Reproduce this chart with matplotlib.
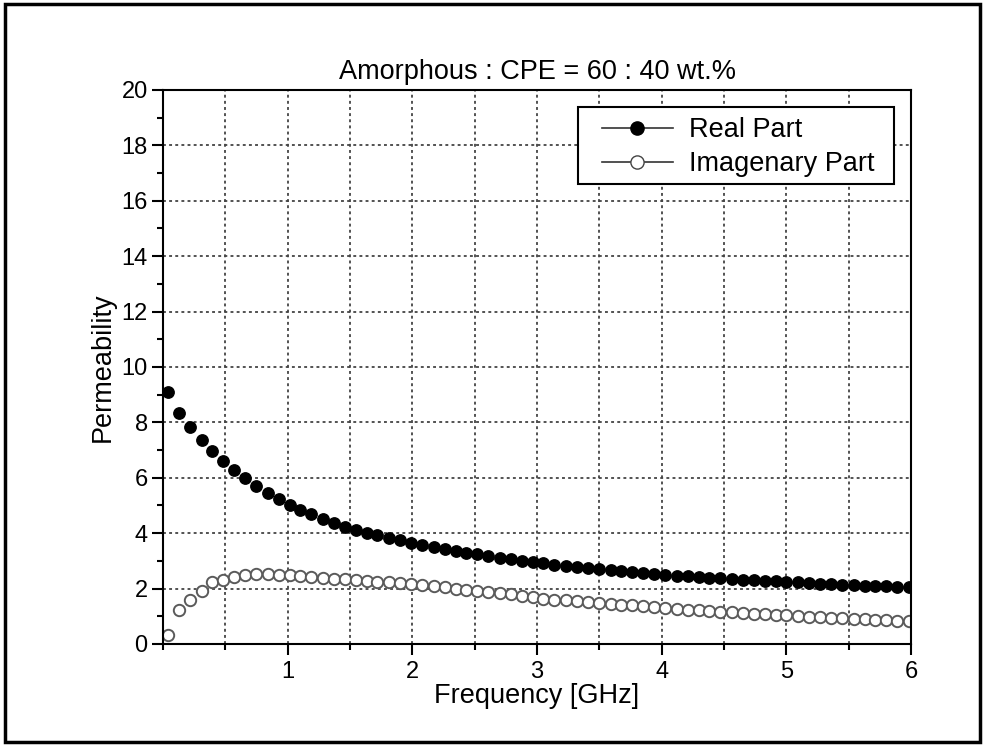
import matplotlib.pyplot as plt
from matplotlib.lines import Line2D
from matplotlib.patches import Rectangle
from matplotlib.ticker import MultipleLocator

plt.rcParams['font.family'] = ['Liberation Sans', 'DejaVu Sans']

# frequency sweep points [GHz]
freq = [0.04, 0.13, 0.22, 0.31, 0.39, 0.48, 0.57, 0.66, 0.75, 0.84,
        0.93, 1.02, 1.10, 1.19, 1.28, 1.37, 1.46, 1.55, 1.64, 1.72,
        1.81, 1.90, 1.99, 2.08, 2.17, 2.26, 2.35, 2.43, 2.52, 2.61,
        2.70, 2.79, 2.88, 2.97, 3.05, 3.14, 3.23, 3.32, 3.41, 3.50,
        3.59, 3.67, 3.76, 3.85, 3.94, 4.03, 4.12, 4.21, 4.30, 4.38,
        4.47, 4.56, 4.65, 4.74, 4.83, 4.92, 5.00, 5.09, 5.18, 5.27,
        5.36, 5.45, 5.54, 5.63, 5.71, 5.80, 5.89, 5.98]

# real part of permeability
real_part = [9.10, 8.35, 7.85, 7.38, 6.98, 6.60, 6.28, 6.00, 5.70, 5.44,
             5.22, 5.02, 4.85, 4.68, 4.53, 4.38, 4.24, 4.13, 4.02, 3.92,
             3.83, 3.74, 3.66, 3.58, 3.51, 3.44, 3.37, 3.30, 3.24, 3.18,
             3.12, 3.06, 3.01, 2.96, 2.91, 2.86, 2.82, 2.78, 2.74, 2.70,
             2.66, 2.62, 2.59, 2.56, 2.53, 2.50, 2.47, 2.44, 2.42, 2.39,
             2.37, 2.34, 2.32, 2.30, 2.28, 2.26, 2.24, 2.22, 2.20, 2.18,
             2.16, 2.14, 2.12, 2.11, 2.09, 2.08, 2.06, 2.05]

# imaginary part of permeability
imag_part = [0.32, 1.22, 1.60, 1.93, 2.22, 2.32, 2.42, 2.48, 2.52, 2.52,
             2.50, 2.48, 2.44, 2.41, 2.38, 2.36, 2.33, 2.30, 2.28, 2.25,
             2.22, 2.19, 2.16, 2.12, 2.08, 2.04, 2.00, 1.96, 1.92, 1.88,
             1.84, 1.79, 1.74, 1.68, 1.64, 1.60, 1.57, 1.54, 1.51, 1.48,
             1.45, 1.42, 1.39, 1.36, 1.33, 1.30, 1.27, 1.24, 1.22, 1.19,
             1.17, 1.14, 1.12, 1.10, 1.07, 1.05, 1.03, 1.01, 0.99, 0.97,
             0.95, 0.93, 0.91, 0.89, 0.88, 0.86, 0.84, 0.83]

x_ticks = [1, 2, 3, 4, 5, 6]
y_ticks = [0, 2, 4, 6, 8, 10, 12, 14, 16, 18, 20]

fig = plt.figure(figsize=(9.83, 7.45), dpi=100)
ax = fig.add_axes([0.1658, 0.1356, 0.7610, 0.7436])

ax.plot(freq, real_part, 'o', ms=8.2, color='black', mec='black')
ax.plot(freq, imag_part, 'o', ms=8.2, mfc='white', mec='#5a5a5a', mew=1.4)

ax.set_xlim(0, 6)
ax.set_ylim(0, 20)
ax.set_xticks(x_ticks)
ax.set_yticks(y_ticks)
ax.xaxis.set_minor_locator(MultipleLocator(0.5))
ax.yaxis.set_minor_locator(MultipleLocator(1))
ax.tick_params(which='major', direction='out', length=8, width=1.5, labelsize=17)
ax.tick_params(axis='x', which='major', pad=4)
ax.tick_params(axis='y', which='major', pad=3)
ax.tick_params(which='minor', direction='out', length=4.5, width=1.5)
for s in ax.spines.values():
    s.set_linewidth(1.5)

ax.grid(True, which='both', axis='x', linestyle=(0, (1.6, 1.8)), color='#444444', lw=1.3)
ax.grid(True, which='major', axis='y', linestyle=(0, (1.6, 1.8)), color='#444444', lw=1.3)
ax.set_axisbelow(True)

ax.set_title('Amorphous : CPE = 60 : 40 wt.%', fontsize=19.5, pad=8)
ax.set_xlabel('Frequency [GHz]', fontsize=19.5, labelpad=0)
ax.set_ylabel('Permeability', fontsize=19.5, labelpad=4)

# legend entries: line with marker, box drawn separately
handles = [
    Line2D([], [], color='#333333', lw=1.2, marker='o', ms=9.5, mfc='black', mec='black'),
    Line2D([], [], color='#333333', lw=1.2, marker='o', ms=9.5, mfc='white', mec='#444444'),
]
leg = ax.legend(handles, ['Real Part', 'Imagenary Part'], loc='upper left',
                bbox_to_anchor=(0.587, 0.951), fontsize=19.5, frameon=False,
                handlelength=2.6, borderpad=0, borderaxespad=0,
                labelspacing=0.3, handletextpad=0.6)
ax.add_patch(Rectangle((0.5548, 0.8303), 0.4225, 0.1390, transform=ax.transAxes,
                       fill=True, facecolor='white', edgecolor='black', lw=1.5, zorder=4))
leg.set_zorder(5)

# outer frame around the whole figure
fig.patches.append(Rectangle((0.005, 0.004), 0.992, 0.990, transform=fig.transFigure,
                             fill=False, edgecolor='black', linewidth=2.5))

fig.savefig('out.png', dpi=100)
